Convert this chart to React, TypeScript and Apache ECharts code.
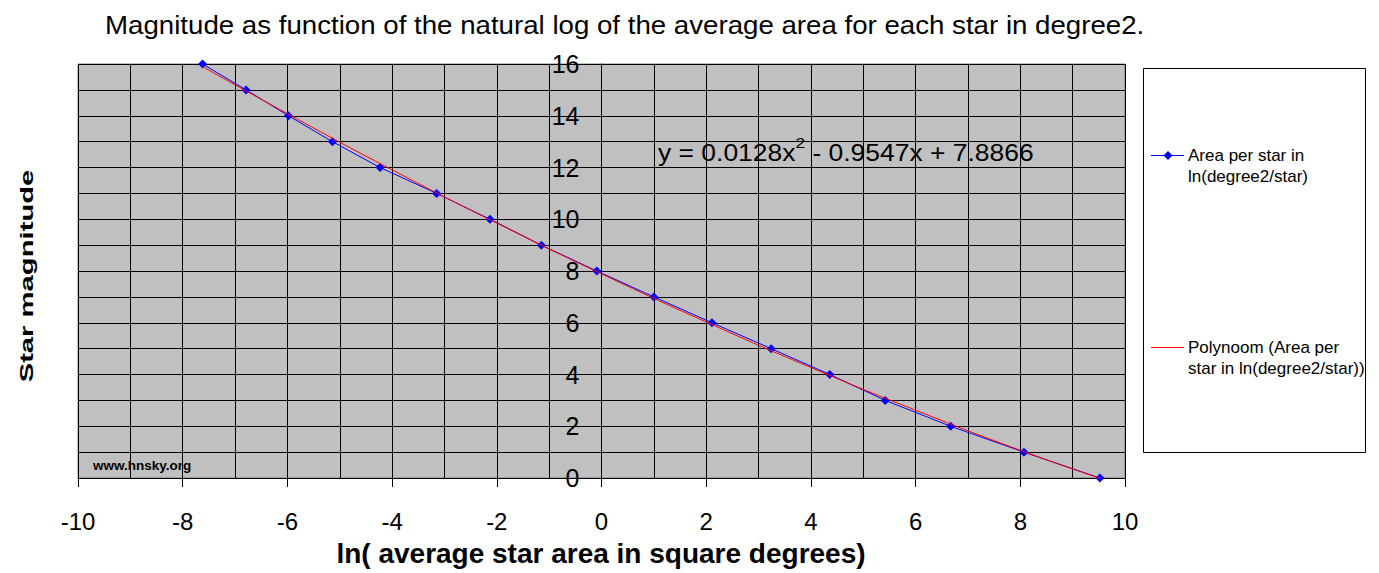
import React, { useEffect, useRef } from "react";
import * as echarts from "echarts";

const magnitudes = [16, 15, 14, 13, 12, 11, 10, 9, 8, 7, 6, 5, 4, 3, 2, 1, 0];
const lnArea = [-7.62, -6.79, -5.98, -5.14, -4.23, -3.15, -2.13, -1.15, -0.09, 1.0, 2.11, 3.24, 4.36, 5.42, 6.67, 8.07, 9.52];

// trendline values
const trendX = [-7.62, -6, -4, -2, 0, 2, 4, 6, 8, 9.52];
const trendY = [15.9, 14.08, 11.91, 9.85, 7.89, 6.03, 4.27, 2.62, 1.07, -0.01];

const titleText = "Magnitude as function of the natural log of the average area for each star in degree2.";
const xName = "ln( average star area in square degrees)";
const yName = "Star magnitude";
const seriesName = "Area per star in ln(degree2/star)";
const trendName = "Polynoom (Area per star in ln(degree2/star))";

const FONT = "'Liberation Sans', Arial, sans-serif";

export default function App() {
  const ref = useRef<HTMLDivElement>(null);
  useEffect(() => {
    if (!ref.current) return;
    const chart = echarts.init(ref.current, undefined, { renderer: "svg" });
    const gl = 78, gt = 64, gw = 1047, gh = 414;
    const xMin = -10, xMax = 10;
    // y axis crosses the x axis at x = 0
    const yAxisOffset = -((0 - xMin) / (xMax - xMin)) * gw;
    chart.setOption({
      animation: false,
      backgroundColor: "#ffffff",
      textStyle: { fontFamily: FONT },
      grid: {
        left: gl, top: gt, width: gw, height: gh,
        show: true, backgroundColor: "#c0c0c0", borderColor: "#808080", borderWidth: 1,
      },
      xAxis: {
        type: "value", min: xMin, max: xMax, interval: 2,
        axisLine: { show: true, onZero: false, lineStyle: { color: "#000", width: 1 } },
        axisTick: { show: true, length: 9, lineStyle: { color: "#000" } },
        axisLabel: { color: "#000", fontSize: 24, fontFamily: FONT, margin: 31 },
        splitLine: { show: true, lineStyle: { color: "#000", width: 1 } },
        minorTick: { show: false, splitNumber: 2 },
        minorSplitLine: { show: true, lineStyle: { color: "#000", width: 1 } },
      },
      yAxis: {
        type: "value", min: 0, max: 16, interval: 2,
        position: "left",
        offset: yAxisOffset,
        axisLine: { show: true, onZero: false, lineStyle: { color: "#000", width: 1 } },
        axisTick: { show: true, length: 8, lineStyle: { color: "#000" } },
        axisLabel: { color: "#000", fontSize: 25, fontFamily: FONT, margin: 22 },
        splitLine: { show: true, lineStyle: { color: "#000", width: 1 } },
        minorTick: { show: false, splitNumber: 2 },
        minorSplitLine: { show: true, lineStyle: { color: "#000", width: 1 } },
      },
      series: [
        {
          name: seriesName,
          type: "line",
          data: lnArea.map((x, i) => [x, magnitudes[i]]),
          symbol: "diamond",
          symbolSize: 9,
          itemStyle: { color: "#0000ff" },
          lineStyle: { color: "#0000ff", width: 1 },
          z: 3,
        },
        {
          name: trendName,
          type: "line",
          data: trendX.map((x, i) => [x, trendY[i]]),
          smooth: true,
          showSymbol: false,
          symbol: "none",
          lineStyle: { color: "#ff0000", width: 1 },
          z: 4,
        },
      ],
      graphic: [
        {
          type: "text", x: 105, y: 25, scaleX: 1.085,
          style: { text: titleText, fontSize: 25.5, fontFamily: FONT, fill: "#000", verticalAlign: "middle" },
        },
        {
          type: "text", x: 601, y: 553,
          style: { text: xName, fontSize: 28, fontWeight: "bold", fontFamily: FONT, fill: "#000", align: "center", verticalAlign: "middle" },
        },
        {
          type: "text", x: 27, y: 276, rotation: Math.PI / 2, scaleX: 1.58,
          style: { text: yName, fontSize: 18.5, fontWeight: "bold", fontFamily: FONT, fill: "#000", align: "center", verticalAlign: "middle" },
        },
        {
          type: "text", x: 93, y: 465, z: 10,
          style: { text: "www.hnsky.org", fontSize: 13.5, fontWeight: "bold", fontFamily: FONT, fill: "#000", verticalAlign: "middle" },
        },
        {
          type: "text", x: 658, y: 150, z: 10, scaleX: 1.15,
          style: {
            text: "{a|y = 0.0128x}{s|2}{a| - 0.9547x + 7.8866}",
            fontFamily: FONT, fill: "#000", verticalAlign: "middle",
            rich: {
              a: { fontSize: 23, fontFamily: FONT, fill: "#000", verticalAlign: "bottom", lineHeight: 30 },
              s: { fontSize: 15, fontFamily: FONT, fill: "#000", verticalAlign: "top", lineHeight: 30 },
            },
          },
        },
        {
          type: "rect", shape: { x: 1143.5, y: 68.5, width: 222, height: 384 },
          style: { fill: "#fff", stroke: "#000", lineWidth: 1 },
        },
        {
          type: "line", shape: { x1: 1151, y1: 155.5, x2: 1184, y2: 155.5 },
          style: { stroke: "#0000ff", lineWidth: 1 },
        },
        {
          type: "polygon", shape: { points: [[1168, 151], [1172.5, 155.5], [1168, 160], [1163.5, 155.5]] },
          style: { fill: "#0000ff" },
        },
        {
          type: "text", x: 1188, y: 145.2,
          style: { text: "Area per star in\nln(degree2/star)", fontSize: 17, lineHeight: 21, fontFamily: FONT, fill: "#000" },
        },
        {
          type: "line", shape: { x1: 1151, y1: 347.5, x2: 1184, y2: 347.5 },
          style: { stroke: "#ff0000", lineWidth: 1 },
        },
        {
          type: "text", x: 1188, y: 337,
          style: { text: "Polynoom (Area per\nstar in ln(degree2/star))", fontSize: 17, lineHeight: 21, fontFamily: FONT, fill: "#000" },
        },
      ],
    });
    return () => chart.dispose();
  }, []);
  return <div ref={ref} style={{ position: "absolute", left: 0, top: 0, width: 1379, height: 573 }} />;
}
